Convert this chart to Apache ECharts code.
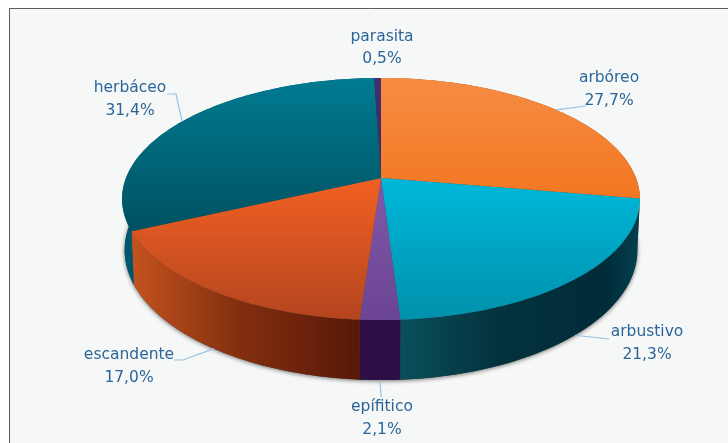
<!DOCTYPE html>
<html><head><meta charset="utf-8">
<style>html,body{margin:0;padding:0;background:#fff}#c{width:728px;height:443px;filter:blur(0.45px)}</style>
<script src="https://cdn.jsdelivr.net/npm/echarts@6/dist/echarts.min.js"></script>
</head><body><div id="c"></div>
<script>
const categories = ['arbóreo','arbustivo','epífitico','escandente','herbáceo','parasita'];
const shares = [27.7,21.3,2.1,17.0,31.4,0.5];

// Presentation only
const topColors = [['#f68c42','#f37722'],['#00b8da','#0091ab'],['#8059a8','#6b4594'],['#f26023','#b4451f'],['#007b92','#00505f'],['#40306f','#35205f']];
const wallStops = [
  [[0,'#8a4a16'],[1,'#8a4a16']],
  [[0,'#0a4f5b'],[0.4,'#03323e'],[0.85,'#002c38'],[1,'#04404f']],
  [[0,'#2e0f45'],[1,'#2e0f45']],
  [[0,'#c4531f'],[0.45,'#85300f'],[1,'#571807']],
  [[0,'#00566c'],[1,'#00566c']],
  [[0,'#2c1a4a'],[1,'#2c1a4a']]
];
const wallRange = [[381,640],[401,640],[360,401],[131,360],[122,381],[374,381]];
const labelCentres = [[609,89.5],[647,343.5],[382,418.5],[129,366.5],[130,99.5],[382,48]];
const labelElbows = [[[586,106]],[[609,339]],[[381,397]],[[183,360],[174,360]],[[176,94],[167,94]],null];
const frontFacing = [false,true,true,true,false,false];

const CX=381, CY=178, XR=255, YR=117.4, K=0.1736, DROP=49.6, SHRINK=0.99;
function rim(theta, lower){
  const s=Math.sin(theta), c=Math.cos(theta), w=1+K*c;
  const x=XR*s/w, y=-YR*c/w;
  return lower ? [CX+SHRINK*x, CY+y+DROP/w] : [CX+x, CY+y];
}
const toAngle = p => echarts.number.linearMap(p,[0,100],[0,Math.PI*2]);
const cumulative = []; shares.reduce((a,v,i)=>(cumulative[i]=a,a+v),0);
function arc(a,b,lower){
  const n=Math.max(2,Math.ceil((b-a)/0.02)), out=[];
  for(let i=0;i<=n;i++) out.push(rim(a+(b-a)*i/n,lower));
  return out;
}
const rows = categories.map((n,i)=>[i,cumulative[i],shares[i]]);

const chart = echarts.init(document.getElementById('c'),null,{renderer:'canvas'});
const fmt = v => v.toFixed(1).replace('.',',');
chart.setOption({
  animation:false,
  backgroundColor:'#ffffff',
  graphic:[{type:'rect',z:0,shape:{x:9.5,y:8.5,width:800,height:500},style:{fill:'#f6f7f7',stroke:'#5c5c5c',lineWidth:1}}],
  series:[
    {type:'custom',coordinateSystem:'none',z:2,data:[[0]],silent:true,
     renderItem(){return {type:'polygon',shape:{points:arc(0,Math.PI*2,true)},
       style:{fill:'#444',shadowBlur:4,shadowColor:'rgba(0,0,0,0.55)',shadowOffsetY:1}};}},
    {type:'custom',coordinateSystem:'none',z:3,data:rows,silent:true,
     renderItem(p,api){
       const i=api.value(0), a=toAngle(api.value(1)), b=toAngle(api.value(1)+api.value(2));
       const r=wallRange[i];
       return {type:'polygon',shape:{points:arc(a,b,false).concat(arc(a,b,true).reverse())},
         style:{fill:new echarts.graphic.LinearGradient(r[0],0,r[1],0,wallStops[i].map(s=>({offset:s[0],color:s[1]})),true)}};
     }},
    {type:'custom',coordinateSystem:'none',z:4,data:rows,silent:true,
     renderItem(p,api){
       const i=api.value(0), a=toAngle(api.value(1)), b=toAngle(api.value(1)+api.value(2));
       return {type:'polygon',shape:{points:[[CX,CY]].concat(arc(a,b,false))},
         style:{fill:new echarts.graphic.LinearGradient(0,i==3||i==1||i==2?CY:78,0,i==0?197:i==4?235:320,
           [{offset:0,color:topColors[i][0]},{offset:1,color:topColors[i][1]}],true)}};
     }},
    {type:'custom',coordinateSystem:'none',z:5,data:rows,silent:true,
     renderItem(p,api){
       const i=api.value(0), mid=toAngle(api.value(1)+api.value(2)/2);
       const c=labelCentres[i], children=[];
       if(labelElbows[i]){
         const pts=[rim(mid,frontFacing[i])].concat(labelElbows[i]);
         children.push({type:'polyline',shape:{points:pts},style:{fill:'none',stroke:'#93c3e6',lineWidth:1.2}});
       }
       children.push({type:'text',style:{x:c[0],y:c[1],text:categories[i]+'\n'+fmt(api.value(2))+'%',
         align:'center',verticalAlign:'middle',lineHeight:22.5,fontFamily:'"DejaVu Sans"',fontSize:15.5,fill:'#2c6699'}});
       return {type:'group',children};
     }}
  ]
});
</script></body></html>
